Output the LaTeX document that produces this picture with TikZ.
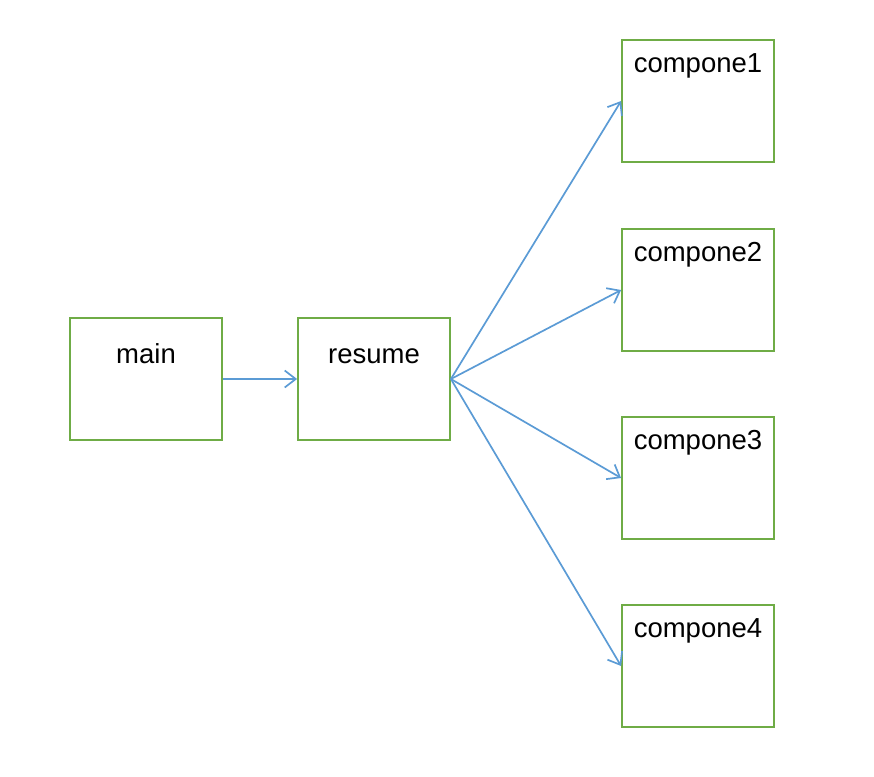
\documentclass[tikz,border=0pt]{standalone}
\usepackage{fontspec}
\setmainfont{Liberation Sans}
\usetikzlibrary{arrows.meta}
\definecolor{boxgreen}{HTML}{6FAC46}
\definecolor{arrowblue}{HTML}{5B9BD5}
\begin{document}
\begin{tikzpicture}[x=1pt,y=-1pt,
  box/.style={draw=boxgreen, line width=1.8pt, minimum width=152pt, minimum height=122pt, inner sep=0pt, fill=white},
  lbl/.style={anchor=base, inner sep=0pt, font=\fontsize{27.5}{31}\selectfont},
  conn/.style={draw=arrowblue, line width=1.7pt, -{Straight Barb[length=11pt,width=17pt,line width=1.7pt]}}]
\useasboundingbox (0,0) rectangle (874,776);
\node[box] (main) at (146,379) {};
\node[box] (resume) at (374,379) {};
\node[box] (c1) at (698,101) {};
\node[box] (c2) at (698,290) {};
\node[box] (c3) at (698,478) {};
\node[box] (c4) at (698,666) {};
\node[lbl] (tmain) at ([yshift=-46pt]main.north) {main};
\node[lbl] (tresume) at ([yshift=-46pt]resume.north) {resume};
\node[lbl] (t1) at ([yshift=-33pt]c1.north) {compone1};
\node[lbl] (t2) at ([yshift=-33pt]c2.north) {compone2};
\node[lbl] (t3) at ([yshift=-33pt]c3.north) {compone3};
\node[lbl] (t4) at ([yshift=-33pt]c4.north) {compone4};
\draw[conn] (main.east) -- (resume.west);
\draw[conn] (resume.east) -- (c1.west);
\draw[conn] (resume.east) -- (c2.west);
\draw[conn] (resume.east) -- (c3.west);
\draw[conn] (resume.east) -- (c4.west);
\end{tikzpicture}
\end{document}
